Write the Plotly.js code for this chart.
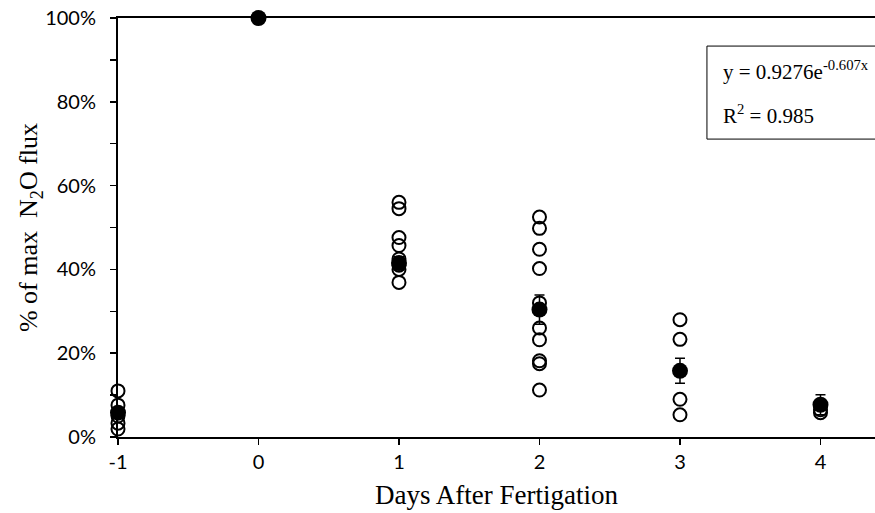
<!DOCTYPE html>
<html>
<head>
<meta charset="utf-8">
<script src="https://cdn.plot.ly/plotly-3.0.1.min.js"></script>
<style>html,body{margin:0;padding:0;background:#fff;}#chart{width:875px;height:513px;}</style>
</head>
<body>
<div id="chart"></div>
<script>
// Individual observations (open circles)
const obsDays = [-1,-1,-1,-1,-1,
                 1,1,1,1,1,1,1,1,
                 2,2,2,2,2,2,2,2,2,2,
                 3,3,3,3,
                 4,4];
const obsValues = [0.110,0.076,0.050,0.033,0.019,
                   0.560,0.545,0.476,0.457,0.425,0.410,0.400,0.369,
                   0.525,0.498,0.448,0.402,0.320,0.260,0.232,0.182,0.175,0.112,
                   0.280,0.233,0.090,0.053,
                   0.058,0.065];
// Means (filled circles) with error bars
const meanDays = [-1,0,1,2,3,4];
const meanValues = [0.058,1.0,0.415,0.304,0.158,0.077];
const meanErrors = [0.012,0.0,0.015,0.035,0.030,0.024];
// Tick labels
const yTickVals = [0,0.2,0.4,0.6,0.8,1.0];
const yTickText = ['0%','20%','40%','60%','80%','100%'];
const xTickVals = [-1,0,1,2,3,4];
const xTickText = ['-1','0','1','2','3','4'];
const eqText = 'y = 0.9276e<sup>-0.607x</sup>';
const r2Text = 'R<sup>2</sup> = 0.985';

const traces = [
  {
    x: obsDays, y: obsValues, type: 'scatter', mode: 'markers',
    marker: {symbol: 'circle-open', size: 13, color: '#000', line: {width: 2, color: '#000'}},
    cliponaxis: false, showlegend: false, hoverinfo: 'x+y'
  },
  {
    x: meanDays, y: meanValues, type: 'scatter', mode: 'markers',
    marker: {symbol: 'circle', size: 16, color: '#000'},
    error_y: {type: 'data', array: meanErrors, visible: true, color: '#000', thickness: 1.5, width: 5},
    cliponaxis: false, showlegend: false, hoverinfo: 'x+y'
  }
];

const tickFont = {family: 'Lato, "DejaVu Sans", sans-serif', size: 20, color: '#000'};
const serif = '"Liberation Serif", "DejaVu Serif", serif';

const layout = {
  width: 875, height: 513,
  margin: {l: 118, r: 0, t: 18, b: 76},
  paper_bgcolor: '#fff', plot_bgcolor: '#fff',
  showlegend: false,
  xaxis: {
    range: [-1, 4.388], tickvals: xTickVals, ticktext: xTickText,
    showgrid: false, zeroline: false,
    showline: true, linecolor: '#000', linewidth: 2, mirror: true,
    ticks: 'outside', ticklen: 6, tickwidth: 1.5, tickcolor: '#000',
    tickfont: tickFont,
    title: {text: 'Days After Fertigation', font: {family: serif, size: 27, color: '#000'}, standoff: 13}
  },
  yaxis: {
    range: [0, 1], tickvals: yTickVals, ticktext: yTickText,
    showgrid: false, zeroline: false,
    showline: true, linecolor: '#000', linewidth: 2,
    ticks: 'outside', ticklen: 6, tickwidth: 1.5, tickcolor: '#000',
    ticklabelstandoff: 10,
    minor: {dtick: 0.1, ticks: 'outside', ticklen: 6, tickwidth: 1.5, tickcolor: '#000'},
    tickfont: tickFont,
    title: {text: '% of max  N<sub>2</sub>O flux', font: {family: serif, size: 26, color: '#000'}, standoff: 0}
  },
  shapes: [
    {type: 'rect', xref: 'paper', yref: 'paper', x0: 0.778, x1: 1.2, y0: 0.711, y1: 0.933,
     line: {color: '#000', width: 1}, fillcolor: 'rgba(0,0,0,0)'}
  ],
  annotations: [
    {xref: 'paper', yref: 'paper', x: 0.797, y: 0.875, xanchor: 'left', yanchor: 'middle',
     text: eqText, showarrow: false, font: {family: serif, size: 21, color: '#000'}},
    {xref: 'paper', yref: 'paper', x: 0.797, y: 0.770, xanchor: 'left', yanchor: 'middle',
     text: r2Text, showarrow: false, font: {family: serif, size: 21, color: '#000'}}
  ]
};

Plotly.newPlot('chart', traces, layout, {displayModeBar: false, staticPlot: true});
</script>
</body>
</html>
